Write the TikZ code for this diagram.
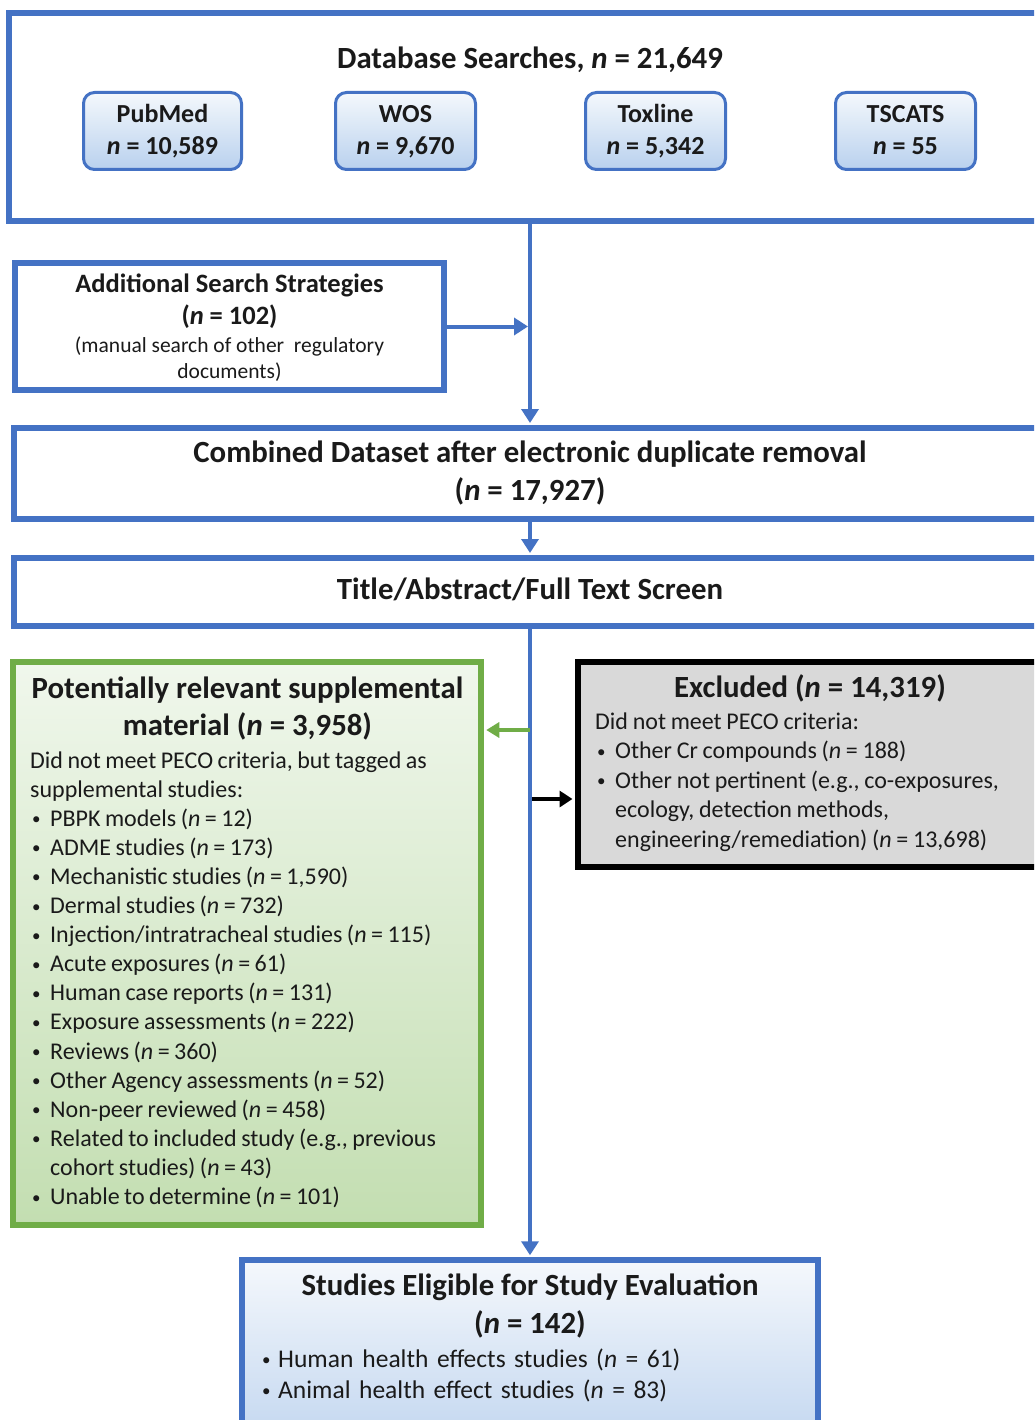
\documentclass[tikz,border=0pt]{standalone}
\usepackage{fontspec}
\setmainfont{Carlito}
\usetikzlibrary{arrows.meta,calc}
\definecolor{bblue}{HTML}{4472C4}
\definecolor{ggreen}{HTML}{70AD47}
\definecolor{subtop}{HTML}{F4F8FC}
\definecolor{subbot}{HTML}{B9D1EE}
\definecolor{eltop}{HTML}{F5F8FC}
\definecolor{elbot}{HTML}{C3D7F0}
\definecolor{grtop}{HTML}{F0F7EC}
\definecolor{grbot}{HTML}{C3DEB1}
\definecolor{exfill}{HTML}{D9D9D9}
\definecolor{txt}{HTML}{1A1A1A}
\newcommand{\smbul}{\hspace*{2pt}\raisebox{1.5pt}{\fontsize{17}{17}\selectfont\textbullet}}
\newcommand{\bitem}[1]{\par\hangindent=#1\hangafter=1\noindent\makebox[#1][l]{\smbul}}
\newcommand{\nn}{\textit{n}}
\newcommand{\tightsp}[1]{\spaceskip=#1\fontdimen2\font plus 1pt minus 1pt\relax}
\begin{document}
\begin{tikzpicture}[x=1pt,y=-1pt,
  every node/.style={text=txt},
  bluebox/.style={draw=bblue,line width=6pt,rectangle,inner sep=0pt,fill=white},
  dbsub/.style={draw=bblue,line width=3pt,rectangle,rounded corners=11pt,inner sep=0pt,minimum height=77pt,top color=subtop,bottom color=subbot},
  greenbox/.style={draw=ggreen,line width=5.5pt,rectangle,inner sep=0pt,top color=grtop,bottom color=grbot},
  greybox/.style={draw=black,line width=6pt,rectangle,inner sep=0pt,fill=exfill},
  eligbox/.style={draw=bblue,line width=5.5pt,rectangle,inner sep=0pt,top color=eltop,bottom color=elbot},
  conn/.style={draw=bblue,line width=4pt,-{Triangle[length=14pt,width=17pt]},shorten >=2pt},
  gconn/.style={draw=ggreen,line width=4pt,-{Triangle[length=13pt,width=15pt]},shorten >=2.5pt},
  kconn/.style={draw=black,line width=4pt,-{Triangle[length=13pt,width=16pt]},shorten >=2.5pt},
  ttl/.style={anchor=base,inner sep=0pt,font=\fontsize{30.8}{36}\selectfont\bfseries},
  subt/.style={anchor=base,inner sep=0pt,font=\fontsize{26}{31}\selectfont\bfseries},
  body/.style={anchor=base west,inner sep=0pt,align=left}
]
\useasboundingbox (0,0) rectangle (1034,1420);
\clip (0,0) rectangle (1034,1420);
\fill[white] (0,0) rectangle (1034,1420);

% boxes
\node[bluebox,minimum width=1042pt,minimum height=208pt] (dbbox) at (530,117) {};
\node[dbsub,minimum width=158pt] (pubmed) at (162.5,131) {};
\node[dbsub,minimum width=140pt] (wos) at (405.5,131) {};
\node[dbsub,minimum width=140pt] (toxline) at (655.5,131) {};
\node[dbsub,minimum width=140pt] (tscats) at (905.5,131) {};
\node[bluebox,minimum width=429pt,minimum height=127pt] (addbox) at (229.5,326.5) {};
\node[bluebox,minimum width=1032pt,minimum height=91pt] (combined) at (530,473.5) {};
\node[bluebox,minimum width=1032pt,minimum height=68pt] (screen) at (530,592) {};
\node[greenbox,minimum width=468pt,minimum height=563pt] (supp) at (247,943.5) {};
\node[greybox,minimum width=466pt,minimum height=205pt] (excl) at (811,764.5) {};
\node[eligbox,minimum width=576pt,minimum height=180pt] (elig) at (530,1350) {};

% connectors
\draw[conn] (dbbox.south) -- (combined.north);
\draw[conn] (addbox.east) -- (addbox.east -| dbbox.south);
\draw[conn] (combined.south) -- (screen.north);
\draw[conn] (screen.south) -- (elig.north);
\coordinate (gstart) at (530,730);
\coordinate (kstart) at (532,799);
\draw[gconn] (gstart) -- (gstart -| supp.east);
\draw[kconn] (kstart) -- (kstart -| excl.west);

% texts: database searches
\node[ttl] (dbt) at (530,68.5) {Database Searches, \nn{} = 21,649};
\node[subt] (pm1) at (162.5,123) {PubMed};
\node[subt] (pm2) at (162.5,155) {\nn{} = 10,589};
\node[subt] (ws1) at (405.5,123) {WOS};
\node[subt] (ws2) at (405.5,155) {\nn{} = 9,670};
\node[subt] (tx1) at (655.5,123) {Toxline};
\node[subt] (tx2) at (655.5,155) {\nn{} = 5,342};
\node[subt] (ts1) at (905.5,123) {TSCATS};
\node[subt] (ts2) at (905.5,155) {\nn{} = 55};

% additional
\node[subt,font=\fontsize{26.5}{31}\selectfont\bfseries] (ad1) at (229.5,292.5) {Additional Search Strategies};
\node[subt,font=\fontsize{26.5}{31}\selectfont\bfseries] (ad2) at (229.5,324.5) {(\nn{} = 102)};
\node[anchor=base,inner sep=0pt,font=\fontsize{21.5}{26}\selectfont] (ad3) at (229.5,352) {(manual search of other\ \ regulatory};
\node[anchor=base,inner sep=0pt,font=\fontsize{21.5}{26}\selectfont] (ad4) at (229.5,378) {documents)};

% combined and screen
\node[ttl] (cb1) at (530,462.5) {Combined Dataset after electronic duplicate removal};
\node[ttl] (cb2) at (530,500.5) {(\nn{} = 17,927)};
\node[ttl] (sc1) at (530,599.5) {Title/Abstract/Full Text Screen};

% supplemental
\node[ttl] (sp1) at (247.5,698.5) {Potentially relevant supplemental};
\node[ttl] (sp2) at (247.5,735.5) {material (\nn{} = 3,958)};
\node[body,text width=450pt,font=\fontsize{24}{29.1}\selectfont] (spb) at (30,768) {\tightsp{0.83}%
Did not meet PECO criteria, but tagged as\par
supplemental studies:%
\bitem{20pt}PBPK models (\nn{} = 12)%
\bitem{20pt}ADME studies (\nn{} = 173)%
\bitem{20pt}Mechanistic studies (\nn{} = 1,590)%
\bitem{20pt}Dermal studies (\nn{} = 732)%
\bitem{20pt}Injection/intratracheal studies (\nn{} = 115)%
\bitem{20pt}Acute exposures (\nn{} = 61)%
\bitem{20pt}Human case reports (\nn{} = 131)%
\bitem{20pt}Exposure assessments (\nn{} = 222)%
\bitem{20pt}Reviews (\nn{} = 360)%
\bitem{20pt}Other Agency assessments (\nn{} = 52)%
\bitem{20pt}Non-peer reviewed (\nn{} = 458)%
\bitem{20pt}Related to included study (e.g., previous\newline cohort studies) (\nn{} = 43)%
\bitem{20pt}Unable to determine (\nn{} = 101)\par};

% excluded
\node[ttl] (ex1) at (810,697.5) {Excluded (\nn{} = 14,319)};
\node[body,text width=440pt,font=\fontsize{24}{29.5}\selectfont] (exb) at (595,729) {\tightsp{0.87}%
Did not meet PECO criteria:%
\bitem{20pt}Other Cr compounds (\nn{} = 188)%
\bitem{20pt}Other not pertinent (e.g., co-exposures,\newline ecology, detection methods,\newline engineering/remediation) (\nn{} = 13,698)\par};

% eligible
\node[ttl] (el1) at (530,1295.5) {Studies Eligible for Study Evaluation};
\node[ttl] (el2) at (530,1333.5) {(\nn{} = 142)};
\node[body,text width=540pt,font=\fontsize{25.5}{31}\selectfont] (elb) at (260,1367) {%
\makebox[18pt][l]{\smbul}Human\hspace{9pt}health effects studies (\nn{} = 61)\par
\makebox[18pt][l]{\smbul}Animal health effect studies (\nn{} = 83)\par};
\end{tikzpicture}
\end{document}
